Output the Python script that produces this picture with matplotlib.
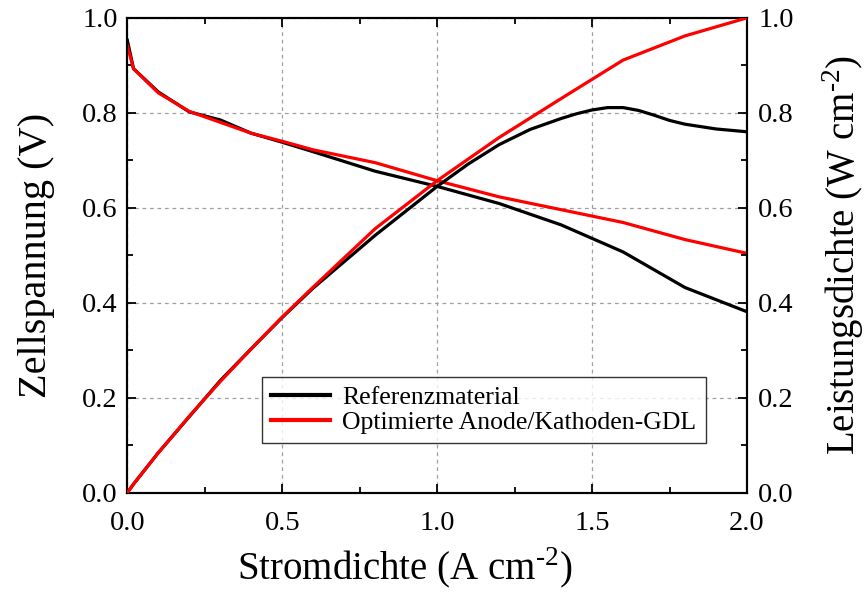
import matplotlib
matplotlib.use('Agg')
import matplotlib.pyplot as plt
from matplotlib.ticker import MultipleLocator, FormatStrFormatter

plt.rcParams['font.family'] = ['Liberation Serif', 'DejaVu Serif']
plt.rcParams['mathtext.fontset'] = 'custom'
plt.rcParams['mathtext.rm'] = 'Liberation Serif'

# polarisation curves (left axis)
j_v = [0, 0.02, 0.1, 0.2, 0.3, 0.4, 0.5, 0.6, 0.8, 1.0, 1.2, 1.4, 1.6, 1.8, 2.0]
v_ref = [0.953, 0.893, 0.844, 0.802, 0.785, 0.757, 0.738, 0.718, 0.677, 0.645,
         0.609, 0.564, 0.507, 0.432, 0.381]
v_opt = [0.942, 0.893, 0.842, 0.803, 0.780, 0.757, 0.740, 0.722, 0.695, 0.657,
         0.623, 0.596, 0.569, 0.533, 0.504]

# power density (right axis)
j_p_ref = [0, 0.02, 0.1, 0.2, 0.3, 0.4, 0.5, 0.6, 0.8, 1.0, 1.1, 1.2, 1.3, 1.4,
           1.45, 1.5, 1.55, 1.6, 1.65, 1.7, 1.75, 1.8, 1.9, 2.0]
p_ref = [0, 0.018, 0.084, 0.160, 0.236, 0.303, 0.369, 0.431, 0.542, 0.645,
         0.692, 0.733, 0.765, 0.788, 0.798, 0.806, 0.811, 0.811, 0.805, 0.795,
         0.784, 0.776, 0.766, 0.760]
j_p_opt = [0, 0.02, 0.1, 0.2, 0.3, 0.4, 0.5, 0.6, 0.8, 1.0, 1.2, 1.4, 1.6, 1.8, 2.0]
p_opt = [0, 0.018, 0.084, 0.161, 0.234, 0.303, 0.370, 0.433, 0.556, 0.657,
         0.748, 0.830, 0.911, 0.962, 1.0]

labels = ['Referenzmaterial', 'Optimierte Anode/Kathoden-GDL']

fig = plt.figure(figsize=(8.66, 5.95), dpi=100)
ax = fig.add_axes([0.147, 0.172, 0.7156, 0.798])
ax2 = ax.twinx()

lw = 2.3
l1, = ax.plot(j_v, v_ref, color='black', lw=lw, zorder=3)
l2, = ax.plot(j_v, v_opt, color='#ff0000', lw=lw, zorder=4)
ax2.plot(j_p_ref, p_ref, color='black', lw=lw, zorder=3)
ax2.plot(j_p_opt, p_opt, color='#ff0000', lw=lw, zorder=4)

for a in (ax, ax2):
    a.set_xlim(0, 2.0)
    a.set_ylim(0, 1.0)
    a.yaxis.set_major_locator(MultipleLocator(0.2))
    a.yaxis.set_minor_locator(MultipleLocator(0.1))
    a.xaxis.set_major_locator(MultipleLocator(0.5))
    a.xaxis.set_minor_locator(MultipleLocator(0.25))
    a.yaxis.set_major_formatter(FormatStrFormatter('%.1f'))
    for s in a.spines.values():
        s.set_linewidth(1.5)

ax.xaxis.set_major_formatter(FormatStrFormatter('%.1f'))
ax.tick_params(which='both', direction='in', top=True, right=False,
               labelsize=20.5, width=1.3)
ax.tick_params(which='major', length=6.5, pad=7)
ax.tick_params(axis='x', which='major', pad=13)
ax.tick_params(which='minor', length=4)
ax2.tick_params(which='both', direction='in', labelsize=20.5, width=1.3)
ax2.tick_params(which='major', length=6.5, pad=8)
ax2.tick_params(which='minor', length=4)

ax.grid(True, which='major', color='#a0a0a0', linestyle=(0, (3, 3)), lw=0.9)
ax.set_axisbelow(True)

ax.set_xlabel('Stromdichte (A cm$^{\\text{-2}}$)', fontsize=28)
ax.xaxis.set_label_coords(0.447, -0.112)
ax.set_ylabel('Zellspannung (V)', fontsize=29)
ax.yaxis.set_label_coords(-0.117, 0.5)
ax2.set_ylabel('Leistungsdichte (W cm$^{\\text{-2}}$)', fontsize=28)
ax2.yaxis.set_label_coords(1.118, 0.5)

leg = ax2.legend([l1, l2], labels, loc='upper left', bbox_to_anchor=(0.2166, 0.243),
                 fontsize=18.5, frameon=True, fancybox=False, handlelength=2.3,
                 borderpad=0.35, labelspacing=0.05, handletextpad=0.5,
                 borderaxespad=0)
leg.get_frame().set_edgecolor('black')
leg.get_frame().set_linewidth(1.0)
for h in leg.get_lines():
    h.set_linewidth(3)

fig.savefig('out.png', dpi=100)
